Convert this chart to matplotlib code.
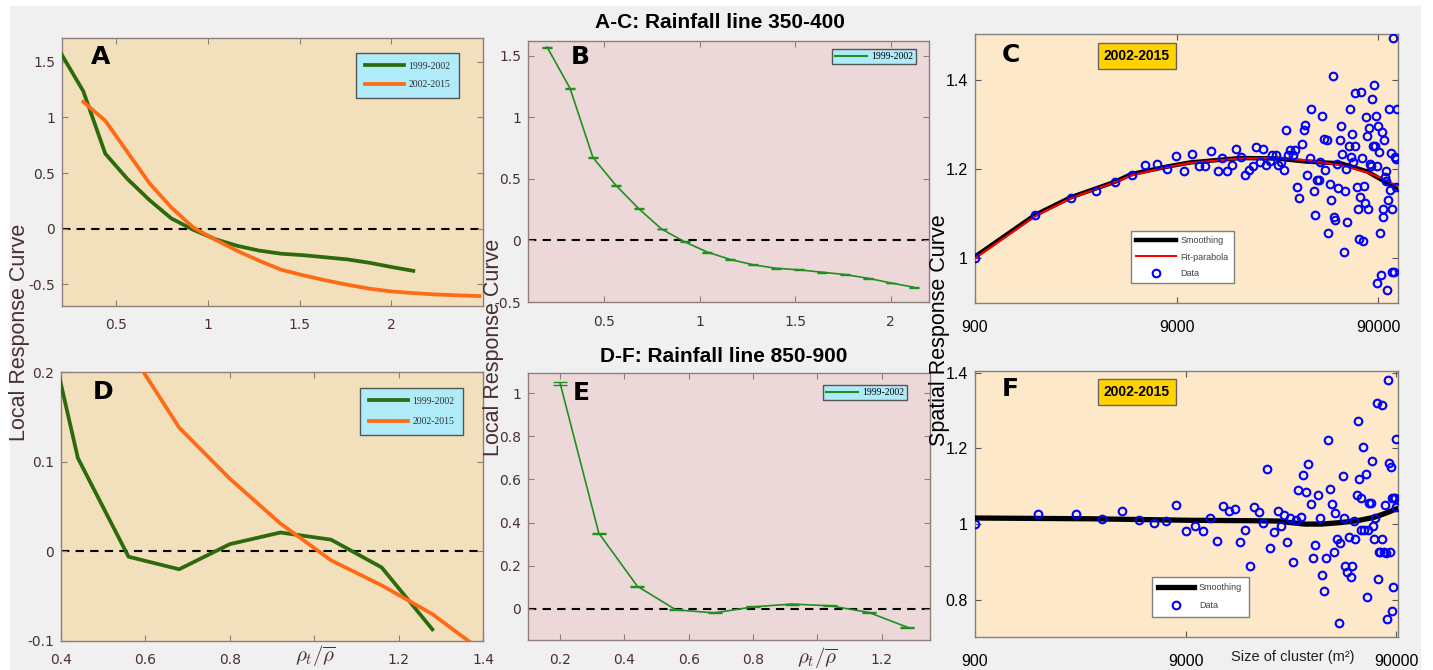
import numpy as np
import matplotlib
matplotlib.use("Agg")
import matplotlib.pyplot as plt
from matplotlib.patches import Rectangle
from matplotlib.lines import Line2D
from matplotlib.ticker import NullLocator

plt.rcParams['mathtext.fontset'] = 'cm'

# ---------------- data ----------------
# Rainfall line 350-400, 1999-2002 (panels A, B)
rho_350_9902 = [0.20, 0.32, 0.44, 0.56, 0.68, 0.80, 0.92, 1.04, 1.16, 1.28, 1.40,
                1.52, 1.64, 1.76, 1.88, 2.00, 2.12]
lrc_350_9902 = [1.571, 1.236, 0.674, 0.448, 0.258, 0.092, -0.011, -0.095, -0.155, -0.198,
                -0.226, -0.239, -0.258, -0.277, -0.307, -0.345, -0.380]
err_350_9902 = [0.004, 0.004, 0.004, 0.003, 0.003, 0.003, 0.003, 0.003, 0.003, 0.003,
                0.003, 0.003, 0.003, 0.003, 0.003, 0.003, 0.004]
# Rainfall line 350-400, 2002-2015 (panel A)
rho_350_0215 = [0.32, 0.44, 0.56, 0.68, 0.80, 0.92, 1.04, 1.16, 1.28, 1.40, 1.52, 1.64,
                1.76, 1.88, 2.00, 2.12, 2.24, 2.36, 2.48]
lrc_350_0215 = [1.14, 0.97, 0.69, 0.41, 0.19, 0.01, -0.10, -0.20, -0.29, -0.37, -0.42,
                -0.465, -0.505, -0.54, -0.565, -0.58, -0.592, -0.60, -0.607]
# Rainfall line 850-900, 1999-2002 (panels D, E)
rho_850_9902 = [0.20, 0.32, 0.44, 0.56, 0.68, 0.80, 0.92, 1.04, 1.16, 1.28]
lrc_850_9902 = [1.047, 0.351, 0.104, -0.006, -0.020, 0.008, 0.021, 0.013, -0.018, -0.087]
err_850_9902 = [0.006, 0.002, 0.002, 0.002, 0.002, 0.002, 0.002, 0.002, 0.002, 0.002]
# Rainfall line 850-900, 2002-2015 (panel D)
rho_850_0215 = [0.56, 0.68, 0.80, 0.92, 1.04, 1.16, 1.28, 1.40]
lrc_850_0215 = [0.226, 0.138, 0.081, 0.031, -0.010, -0.038, -0.070, -0.112]

# Panel C: spatial response, 350-400, 2002-2015
c_size = [900, 1787, 2687, 3590, 4480, 5380, 6270, 7160, 8060, 8970, 9820, 10800, 11600,
          12500, 13400, 14400, 15200, 16100, 16900, 17800, 18800, 19700, 20600, 21500,
          22400, 23400, 24200, 25000, 26100, 26800, 28000, 28600, 29700, 30600, 31300,
          32000, 33000, 34100, 34800, 35600, 36600, 37600, 38500, 39200, 40100, 41200,
          42000, 43100, 44000, 44900, 45700, 46400, 47300, 48300, 49300, 50100, 50800,
          51800, 52600, 53600, 54200, 55200, 56100, 57100, 58000, 58900, 59800, 60800,
          61700, 62600, 63400, 64300, 65300, 66300, 67000, 67800, 68900, 69400, 70400,
          71500, 72300, 72900, 74100, 74600, 75800, 76900, 77600, 78500, 79400, 80300,
          81300, 81900, 83100, 84100, 85100, 85700, 86700, 87700, 88400, 89300, 90000,
          91000, 92100, 93100, 94200, 94900, 95700, 96400, 97100, 98200, 99000, 99800,
          101000, 102000, 103000, 104000, 105000, 106000, 107000, 108000, 109000, 110000,
          111000, 112000]
c_resp = [1.000, 1.097, 1.136, 1.150, 1.171, 1.188, 1.210, 1.212, 1.201, 1.229, 1.197,
          1.233, 1.207, 1.207, 1.240, 1.195, 1.225, 1.195, 1.210, 1.245, 1.227, 1.188,
          1.199, 1.207, 1.250, 1.215, 1.245, 1.210, 1.219, 1.231, 1.232, 1.210, 1.215,
          1.199, 1.288, 1.231, 1.243, 1.231, 1.243, 1.161, 1.135, 1.257, 1.288, 1.299,
          1.187, 1.226, 1.334, 1.152, 1.097, 1.176, 1.176, 1.215, 1.320, 1.267, 1.198,
          1.266, 1.058, 1.166, 1.131, 1.408, 1.092, 1.085, 1.211, 1.157, 1.266, 1.296,
          1.234, 1.015, 1.152, 1.200, 1.082, 1.251, 1.334, 1.228, 1.278, 1.215, 1.370,
          1.251, 1.159, 1.110, 1.043, 1.137, 1.372, 1.226, 1.040, 1.163, 1.124, 1.318,
          1.275, 1.110, 1.292, 1.211, 1.206, 1.357, 1.251, 1.389, 1.251, 1.320, 1.206,
          0.944, 1.296, 1.238, 1.058, 0.962, 1.284, 1.092, 1.110, 1.266, 1.182, 1.197,
          1.174, 0.930, 1.131, 1.334, 1.153, 1.236, 1.110, 0.970, 1.493, 0.970, 1.228,
          1.161, 1.222, 1.334]
c_smooth_size = [900, 1780, 2690, 4470, 5370, 8130, 10500, 18600, 28200, 39800, 58900,
                 79400, 95500, 107000, 112000]
c_smooth_resp = [1.004, 1.097, 1.137, 1.172, 1.189, 1.206, 1.215, 1.225, 1.224, 1.217,
                 1.213, 1.195, 1.174, 1.162, 1.158]
c_parab_size = [900, 1780, 2690, 4470, 5370, 8130, 10500, 18600, 28200, 39800, 58900,
                79400, 95500, 107000, 112000]
c_parab_resp = [1.000, 1.094, 1.135, 1.171, 1.186, 1.205, 1.214, 1.224, 1.225, 1.220,
                1.209, 1.193, 1.178, 1.167, 1.162]

# Panel F: spatial response, 850-900, 2002-2015
f_size = [900, 1800, 2700, 3610, 4510, 5430, 6350, 7240, 8130, 9080, 9950, 10900, 11800,
          12700, 13600, 14500, 15400, 16300, 17300, 18100, 19000, 20000, 20900, 21800,
          22700, 23600, 24600, 25400, 26300, 27300, 28200, 29000, 30000, 30900, 31700,
          32600, 33600, 34300, 35500, 36400, 37200, 38200, 39000, 40000, 40900, 41700,
          42600, 43700, 44500, 45500, 46300, 47200, 48000, 48900, 50000, 50900, 51600,
          52400, 53600, 54700, 55600, 56400, 57400, 58300, 59200, 60000, 60900, 61500,
          62500, 63400, 64300, 65300, 66000, 66900, 68200, 68900, 69900, 70700, 71700,
          72800, 73600, 74400, 75500, 76600, 77400, 78300, 79200, 80100, 81000, 81800,
          83000, 84000, 84600, 85500, 86100, 87100, 87700, 89000, 89600, 89900]
f_resp = [1.000, 1.026, 1.026, 1.013, 1.034, 1.011, 1.004, 1.009, 1.050, 0.982, 0.996,
          0.981, 1.017, 0.955, 1.048, 1.035, 1.040, 0.954, 0.984, 0.889, 1.044, 1.032,
          1.003, 1.145, 0.936, 0.979, 1.034, 0.994, 1.025, 0.954, 1.015, 0.899, 1.010,
          1.090, 1.020, 1.129, 1.085, 1.158, 1.052, 0.911, 0.945, 1.076, 1.017, 0.865,
          0.823, 0.910, 1.221, 1.093, 1.054, 0.927, 1.029, 0.960, 0.738, 0.950, 1.126,
          1.015, 0.889, 0.873, 0.965, 0.860, 0.889, 1.009, 0.961, 1.077, 1.272, 1.118,
          1.068, 0.985, 1.204, 0.985, 1.131, 0.807, 0.985, 1.055, 1.055, 1.167, 0.994,
          0.960, 1.015, 1.320, 0.855, 0.927, 0.927, 1.313, 0.961, 0.927, 1.050, 0.923,
          0.749, 1.379, 1.161, 0.927, 1.150, 1.068, 0.770, 0.833, 1.068, 1.068, 1.046,
          1.224]
f_smooth_size = [900, 3160, 9440, 17800, 25100, 28200, 33100, 39800, 49000, 58900, 70800,
                 81300, 89900]
f_smooth_resp = [1.016, 1.014, 1.010, 1.009, 1.008, 1.004, 1.000, 1.000, 1.004, 1.009,
                 1.018, 1.030, 1.040]

legend_labels = ['1999-2002', '2002-2015']
period_box = '2002-2015'
title_top = 'A-C: Rainfall line 350-400'
title_bottom = 'D-F: Rainfall line 850-900'

# ---------------- style ----------------
W, H = 1433, 670
fig = plt.figure(figsize=(W / 100, H / 100), dpi=100, facecolor='white')
fig.patches.append(Rectangle((10 / W, 0), (1420 - 10) / W, (H - 6) / H,
                             transform=fig.transFigure, color='#f0f0f0', zorder=-10))

DKGREEN = '#2d6a0c'
ORANGE = '#ff6a14'
BGREEN = '#1f8f1f'
BROWN = '#4a3030'
FRAME = '#8f7f7a'


def add_ax(l, t, r, b):
    return fig.add_axes([l / W, 1 - b / H, (r - l) / W, (b - t) / H])


def fx(x):
    return x / W


def fy(y):
    return 1 - y / H


def style_local(ax, face):
    ax.set_facecolor(face)
    for s in ax.spines.values():
        s.set_color(FRAME)
        s.set_linewidth(1.0)
    ax.tick_params(direction='in', top=True, right=True, length=4, width=0.8,
                   colors=FRAME, labelcolor=BROWN, labelsize=10)
    ax.tick_params(axis='x', pad=9)
    ax.tick_params(axis='y', pad=5)
    ax.axhline(0, color='k', ls=(0, (4, 3)), lw=1.5, zorder=1)


def style_spatial(ax):
    ax.set_facecolor('#fde9ca')
    for s in ax.spines.values():
        s.set_color('#808080')
        s.set_linewidth(1.0)
    ax.set_xscale('log')
    ax.set_xticks([900, 9000, 90000])
    ax.set_xticklabels(['900', '9000', '90000'])
    ax.xaxis.set_minor_locator(NullLocator())
    ax.tick_params(direction='in', top=True, right=True, length=4, width=0.8,
                   colors='#555555', labelcolor='black', labelsize=11.5)
    for lab in ax.get_xticklabels() + ax.get_yticklabels():
        lab.set_family('Liberation Sans')
    ax.tick_params(axis='x', pad=12)
    ax.tick_params(axis='y', pad=5)


def cyan_legend(ax, x0, y0, handlelength, borderpad, labelspacing):
    leg = ax.legend(loc='upper left', bbox_to_anchor=(fx(x0), fy(y0)),
                    bbox_transform=fig.transFigure, prop=dict(family='Liberation Serif', size=7),
                    facecolor='#b0ebfa', edgecolor='#555555', framealpha=1, fancybox=False,
                    handlelength=handlelength, handletextpad=0.5, borderpad=borderpad,
                    labelspacing=labelspacing, borderaxespad=0)
    leg.get_frame().set_linewidth(1.0)
    for t in leg.get_texts():
        t.set_color('#303030')
    return leg


def period_label(x, y):
    fig.text(fx(x), fy(y), period_box, ha='center', va='center', fontsize=10,
             fontweight='bold', family='Liberation Sans',
             bbox=dict(boxstyle='square,pad=0.42', facecolor='#ffd200', edgecolor='#666666', lw=1))


def panel_letter(x, y, s):
    fig.text(fx(x), fy(y), s, ha='center', va='center_baseline', fontsize=18,
             fontweight='heavy', family='DejaVu Sans', color='black')


# ---------------- panel A ----------------
axA = add_ax(62, 38, 483, 306)
style_local(axA, '#f2dfbb')
axA.plot(rho_350_9902, lrc_350_9902, color=DKGREEN, lw=2.7, label=legend_labels[0], zorder=3)
axA.plot(rho_350_0215, lrc_350_0215, color=ORANGE, lw=2.7, label=legend_labels[1], zorder=3)
axA.set_xlim(0.204, 2.5)
axA.set_ylim(-0.696, 1.714)
axA.set_xticks([0.5, 1, 1.5, 2])
axA.set_xticklabels(['0.5', '1', '1.5', '2'])
axA.set_yticks([-0.5, 0, 0.5, 1, 1.5])
axA.set_yticklabels(['-0.5', '0', '0.5', '1', '1.5'])
cyan_legend(axA, 356, 53, 4.0, 0.9, 1.0)

# ---------------- panel B ----------------
axB = add_ax(528, 41, 929, 302)
style_local(axB, '#ecd8d8')
axB.errorbar(rho_350_9902, lrc_350_9902, yerr=err_350_9902, color=BGREEN, lw=1.2,
             capsize=3.5, elinewidth=1.0, capthick=1.0, label=legend_labels[0], zorder=3)
axB.set_xlim(0.1, 2.2)
axB.set_ylim(-0.5, 1.62)
axB.set_xticks([0.5, 1, 1.5, 2])
axB.set_xticklabels(['0.5', '1', '1.5', '2'])
axB.set_yticks([-0.5, 0, 0.5, 1, 1.5])
axB.set_yticklabels(['-0.5', '0', '0.5', '1', '1.5'])
hB, lB = axB.get_legend_handles_labels()
legB = axB.legend([Line2D([], [], color=BGREEN, lw=1.5)], [lB[0]], loc='upper left',
                  bbox_to_anchor=(fx(832), fy(49)), bbox_transform=fig.transFigure,
                  prop=dict(family='Liberation Serif', size=7), facecolor='#b0ebfa',
                  edgecolor='#555555', framealpha=1, fancybox=False, handlelength=3.3,
                  handletextpad=0.4, borderpad=0.3, borderaxespad=0)

# ---------------- panel C ----------------
axC = add_ax(975, 34, 1398, 303)
style_spatial(axC)
axC.plot(c_smooth_size, c_smooth_resp, color='black', lw=3.2, label='Smoothing', zorder=3)
axC.plot(c_parab_size, c_parab_resp, color='red', lw=1.5, label='Fit-parabola', zorder=4)
axC.plot(c_size, c_resp, 'o', mfc='none', mec='blue', ms=5.5, mew=1.5, label='Data', zorder=5)
axC.set_xlim(900, 113000)
axC.set_ylim(0.9, 1.503)
axC.set_yticks([1, 1.2, 1.4])
axC.set_yticklabels(['1', '1.2', '1.4'])
for lab in axC.get_xticklabels() + axC.get_yticklabels():
    lab.set_family('Liberation Sans')
legC = axC.legend(loc='upper left', bbox_to_anchor=(fx(1131), fy(231)),
                  bbox_transform=fig.transFigure, prop=dict(family='Liberation Sans', size=6.5),
                  facecolor='white', edgecolor='#808080', framealpha=1, fancybox=False,
                  handlelength=4.4, handletextpad=0.5, borderpad=0.6, labelspacing=0.8,
                  borderaxespad=0)
for t in legC.get_texts():
    t.set_color('#404040')

# ---------------- panel D ----------------
axD = add_ax(61, 372, 483, 641)
style_local(axD, '#f2dfbb')
axD.plot(rho_850_9902, lrc_850_9902, color=DKGREEN, lw=2.7, label=legend_labels[0], zorder=3)
axD.plot(rho_850_0215, lrc_850_0215, color=ORANGE, lw=2.7, label=legend_labels[1], zorder=3)
axD.set_xlim(0.4, 1.4)
axD.set_ylim(-0.1, 0.2)
axD.set_xticks([0.4, 0.6, 0.8, 1.0, 1.2, 1.4])
axD.set_xticklabels(['0.4', '0.6', '0.8', '', '1.2', '1.4'])
axD.set_yticks([-0.1, 0, 0.1, 0.2])
axD.set_yticklabels(['-0.1', '0', '0.1', '0.2'])
cyan_legend(axD, 360, 388, 4.0, 0.9, 1.2)

# ---------------- panel E ----------------
axE = add_ax(528, 373, 930, 640)
style_local(axE, '#ecd8d8')
axE.errorbar(rho_850_9902, lrc_850_9902, yerr=err_850_9902, color=BGREEN, lw=1.2,
             capsize=5, elinewidth=1.0, capthick=1.0, label=legend_labels[0], zorder=3)
axE.set_xlim(0.1, 1.35)
axE.set_ylim(-0.146, 1.095)
axE.set_xticks([0.2, 0.4, 0.6, 0.8, 1.0, 1.2])
axE.set_xticklabels(['0.2', '0.4', '0.6', '0.8', '', '1.2'])
axE.set_yticks([0, 0.2, 0.4, 0.6, 0.8, 1.0])
axE.set_yticklabels(['0', '0.2', '0.4', '0.6', '0.8', '1'])
hE, lE = axE.get_legend_handles_labels()
axE.legend([Line2D([], [], color=BGREEN, lw=1.5)], [lE[0]], loc='upper left',
           bbox_to_anchor=(fx(823), fy(385)), bbox_transform=fig.transFigure,
           prop=dict(family='Liberation Serif', size=7), facecolor='#b0ebfa',
           edgecolor='#555555', framealpha=1, fancybox=False, handlelength=3.3,
           handletextpad=0.4, borderpad=0.3, borderaxespad=0)

# ---------------- panel F ----------------
axF = add_ax(975, 371, 1398, 637)
style_spatial(axF)
axF.plot(f_smooth_size, f_smooth_resp, color='black', lw=3.8, label='Smoothing', zorder=3)
axF.plot(f_size, f_resp, 'o', mfc='none', mec='blue', ms=5.5, mew=1.5, label='Data', zorder=5)
axF.set_xlim(900, 91700)
axF.set_ylim(0.702, 1.404)
axF.set_yticks([0.8, 1.0, 1.2, 1.4])
axF.set_yticklabels(['0.8', '1', '1.2', '1.4'])
for lab in axF.get_xticklabels() + axF.get_yticklabels():
    lab.set_family('Liberation Sans')
legF = axF.legend(loc='upper left', bbox_to_anchor=(fx(1152), fy(577)),
                  bbox_transform=fig.transFigure, prop=dict(family='Liberation Sans', size=6.5),
                  facecolor='white', edgecolor='#808080', framealpha=1, fancybox=False,
                  handlelength=4.0, handletextpad=0.5, borderpad=0.7, labelspacing=1.0,
                  borderaxespad=0)
for t in legF.get_texts():
    t.set_color('#404040')

# ---------------- annotations ----------------
panel_letter(101, 55, 'A')
panel_letter(580, 55, 'B')
panel_letter(1011, 52, 'C')
panel_letter(103, 389, 'D')
panel_letter(581, 391, 'E')
panel_letter(1010, 387, 'F')

period_label(1137, 56)
period_label(1137, 392)

fig.text(fx(720), fy(23), title_top, ha='center', va='center', fontsize=15,
         fontweight='bold', family='Liberation Sans')
fig.text(fx(724), fy(357), title_bottom, ha='center', va='center', fontsize=15,
         fontweight='bold', family='Liberation Sans')

fig.text(fx(20), fy(332), 'Local Response Curve', rotation=90, ha='center', va='center',
         fontsize=15.5, family='Liberation Sans', color=BROWN)
fig.text(fx(493), fy(347), 'Local Response Curve', rotation=90, ha='center', va='center',
         fontsize=15.5, family='Liberation Sans', color=BROWN)
fig.text(fx(939), fy(330), 'Spatial Response Curve', rotation=90, ha='center', va='center',
         fontsize=15.5, family='Liberation Sans', color='black')

fig.text(fx(315), fy(655), r'$\rho_t/\overline{\rho}$', ha='center', va='center',
         fontsize=15, color=BROWN)
fig.text(fx(817), fy(657), r'$\rho_t/\overline{\rho}$', ha='center', va='center',
         fontsize=15, color=BROWN)
fig.text(fx(1293), fy(657), 'Size of cluster (m²)', ha='center', va='center',
         fontsize=10.5, family='Liberation Sans', color='#202020')

fig.savefig('out.png', dpi=100, facecolor=fig.get_facecolor())
